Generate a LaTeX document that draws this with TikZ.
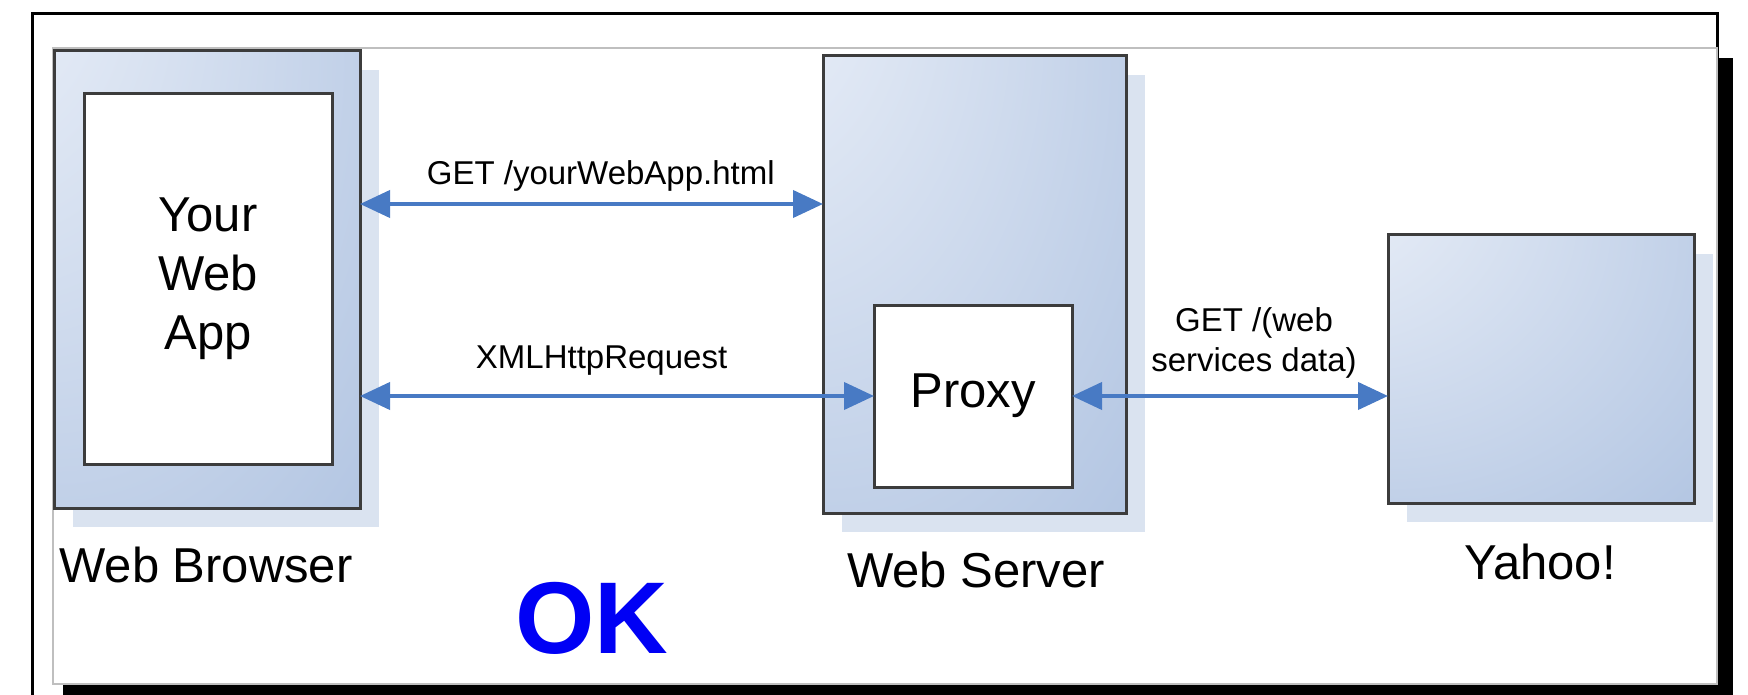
\documentclass[tikz,border=0pt]{standalone}
\usepackage{fontspec}
\setmainfont{Liberation Sans}
\usepackage{tikz}
\usetikzlibrary{positioning}
\usetikzlibrary{arrows.meta}
\usetikzlibrary{shadows}

\definecolor{boxlight}{RGB}{231,237,247}
\definecolor{boxdark}{RGB}{178,197,226}
\definecolor{shadowblue}{RGB}{218,227,240}
\definecolor{linkblue}{RGB}{72,122,196}
\definecolor{okblue}{RGB}{0,0,245}
\definecolor{rimgray}{RGB}{60,60,60}
\pgfdeclareradialshading{boxshade}{\pgfpoint{-45bp}{45bp}}{color(0bp)=(boxlight); color(12bp)=(boxlight); color(62bp)=(boxdark); color(100bp)=(boxdark)}

\begin{document}
\begin{tikzpicture}[x=1pt, y=-1pt]
        \tikzstyle{machine}=[rectangle, shading=boxshade, draw=rimgray, line width=3pt,
            drop shadow={shadow xshift=19pt, shadow yshift=-19pt, fill=shadowblue, opacity=1},
            inner sep=0pt, outer sep=0pt]
        \tikzstyle{inset}=[rectangle, fill=white, draw=rimgray, line width=3pt,
            inner sep=0pt, outer sep=0pt, font=\fontsize{49}{59}\selectfont]
        \tikzstyle{caption}=[anchor=base, font=\fontsize{49}{59}\selectfont]
        \tikzstyle{link}=[{Triangle[length=30pt,width=27pt]}-{Triangle[length=30pt,width=27pt]},
            draw=linkblue, line width=4pt]
        \tikzstyle{msg}=[inner sep=0pt, text depth=0pt, font=\fontsize{33}{40}\selectfont]

            \useasboundingbox (0,0) rectangle (1748,695);
            \fill (63,58) rectangle (1733,695);
            \draw[line width=3pt] (32,695) -- (32,14) -- (1717,14) -- (1717,60);
            \filldraw[fill=white, draw=black!25, line width=1.5pt] (53,48) rectangle (1717,684);

            \node[machine, minimum width=306pt, minimum height=457pt] (browser) at (207,279.5) {};
            \node[inset, minimum width=248pt, minimum height=370pt, align=center] (app) at (208,279) {Your\\Web\\App};
            \node[machine, minimum width=303pt, minimum height=457pt] (server) at (974.5,284.5) {};
            \node[inset, minimum width=198pt, minimum height=182pt] (proxy) at (973,396) {Proxy};
            \node[machine, minimum width=306pt, minimum height=268pt] (yahoo) at (1541,369) {};

            \node[caption] (browsername) at (206,582) {Web Browser};
            \node[caption] (servername) at (976,587) {Web Server};
            \node[caption] (yahooname) at (1540,579) {Yahoo!};
            \node[anchor=base, text=okblue, font=\fontsize{102}{102}\selectfont\bfseries] (ok) at (592,653) {OK};

            \draw[link] ([yshift=75.5pt]browser.east) -- ([yshift=80.5pt]server.west)
            node[msg, above=17pt, pos=0.52] (getpage) {GET /yourWebApp.html};
            \draw[link] (browser.east |- proxy.west) -- (proxy.west)
            node[msg, above=26pt, pos=0.47] (xhr) {XMLHttpRequest};
            \draw[link] (proxy.east) -- (yahoo.west |- proxy.east)
            node[msg, align=center, above=23pt, pos=0.576] (getdata) {GET /(web\\services data)};
        \end{tikzpicture}
\end{document}
